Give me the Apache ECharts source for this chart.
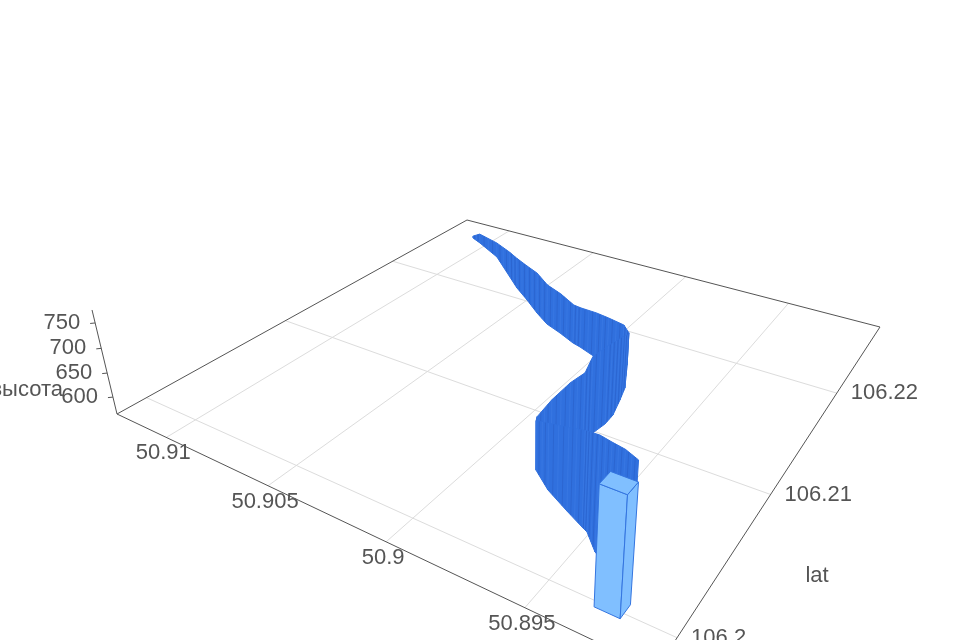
<!DOCTYPE html>
<html><head><meta charset="utf-8"><style>html,body{margin:0;background:#fff;overflow:hidden}#c{width:960px;height:640px;filter:blur(0.5px)}</style></head><body><div id="c"></div>
<script src="https://cdn.jsdelivr.net/npm/echarts@6/dist/echarts.min.js"></script>
<script>
// Track samples, far end to near end
const trackLon=[50.91105,50.91039,50.90872,50.90695,50.90604,50.90500,50.90397,50.90308,50.90220,50.90132,50.90091,50.90000,50.89948,50.89890,50.89862,50.89791,50.89768,50.89743,50.89740,50.89752,50.89758,50.89773,50.89792,50.89806,50.89806,50.89717,50.89611,50.89533,50.89509,50.89445,50.89390,50.89396,50.89486];
const trackLat=[106.22614,106.22569,106.22440,106.22228,106.22119,106.22013,106.21901,106.21815,106.21763,106.21703,106.21685,106.21633,106.21641,106.21667,106.21654,106.21437,106.21320,106.21177,106.21085,106.20961,106.20906,106.20805,106.20683,106.20588,106.20579,106.20484,106.20404,106.20348,106.20332,106.20242,106.20198,106.20336,106.20741];
const trackAlt=[569,588,601,627,638,647,659,656,655,651,653,663,658,647,636,678,698,717,724,722,700,697,684,668,662,693,721,742,747,773,781,738,612];
// Highlighted bar: centre, half sizes, height
const barLon=50.89298, barLat=106.20012, barAlt=775, barHalfLon=0.00041, barHalfLat=0.00043;
// Axes
const lonTicks=[50.91,50.905,50.9,50.895];
const lonLabels=['50.91','50.905','50.9','50.895'];
const latTicks=[106.2,106.21,106.22];
const latLabels=['106.2','106.21','106.22'];
const altTicks=[600,650,700,750];
const altLabels=['600','650','700','750'];
const lonRange=[50.9127,50.89096], latRange=[106.1982,106.2286], altRange=[564,775];
const altName='высота', latName='lat';

// Camera: floor plane homography plus a vertical vanishing point
const CL=[117,414],CF=[656,670],CB=[467,220];
const G=-0.2901,H=0.4625,K=-0.05699,VP=[530,2135];
const A=CF[0]-CL[0]+G*CF[0],Bx=CB[0]-CL[0]+H*CB[0],D=CF[1]-CL[1]+G*CF[1],E=CB[1]-CL[1]+H*CB[1];
const lm=echarts.number.linearMap;
function project(lon,lat,alt){
  const u=lm(lon,lonRange,[0,1]),v=lm(lat,latRange,[0,1]),t=lm(alt,altRange,[0,1]);
  const q=K*t,w=G*u+H*v+1+q;
  return [(A*u+Bx*v+CL[0]+q*VP[0])/w,(D*u+E*v+CL[1]+q*VP[1])/w];
}
const z0=altRange[0];
const lonEnds=[lonRange[0],lonRange[1]],latEnds=[latRange[0],latRange[1]];
function line(a,b,stroke,lw){return {type:'line',shape:{x1:a[0],y1:a[1],x2:b[0],y2:b[1]},style:{stroke,lineWidth:lw||1}};}
function poly(pts,fill,stroke,lw){return {type:'polygon',shape:{points:pts},style:{fill,stroke:stroke||fill,lineWidth:lw||1,lineJoin:'round'}};}
const TXT='#555',FONT='22px "Liberation Sans"';
function text(x,y,s,align){return {type:'text',x,y,style:{text:s,fill:TXT,font:FONT,align:align||'center',verticalAlign:'middle'}};}
const mix=(p,q,f)=>[p[0]+(q[0]-p[0])*f,p[1]+(q[1]-p[1])*f];

function renderGrid(){
  const ch=[];
  lonTicks.forEach(l=>ch.push(line(project(l,latEnds[0],z0),project(l,latEnds[1],z0),'#dcdcdc')));
  latTicks.forEach(l=>ch.push(line(project(lonEnds[0],l,z0),project(lonEnds[1],l,z0),'#dcdcdc')));
  const c=[project(lonEnds[0],latEnds[0],z0),project(lonEnds[1],latEnds[0],z0),project(lonEnds[1],latEnds[1],z0),project(lonEnds[0],latEnds[1],z0)];
  for(let i=0;i<4;i++)ch.push(line(c[i],c[(i+1)%4],'#555'));
  ch.push(line(c[0],project(lonEnds[0],latEnds[0],altRange[1]),'#555'));
  altTicks.forEach(a=>{const p=project(lonEnds[0],latEnds[0],a);ch.push(line(p,[p[0]-5,p[1]+0.5],'#555'));});
  return {type:'group',children:ch};
}
function renderWall(params,api){
  const i=api.value(0);
  if(i>=trackLon.length-1)return null;
  const a=project(trackLon[i],trackLat[i],z0),b=project(trackLon[i+1],trackLat[i+1],z0),
        c=project(trackLon[i+1],trackLat[i+1],trackAlt[i+1]),d=project(trackLon[i],trackLat[i],trackAlt[i]);
  const ch=[poly([a,b,c,d],'#3070de','#3070de',1)];
  [0,0.25,0.5,0.75].forEach((f,j)=>ch.push(line(mix(a,b,f),mix(d,c,f),j%2?'#2a62cc':'#3b7ae4',0.7)));
  return {type:'group',children:ch};
}
function renderBar(){
  const h=(sx,sy,z)=>project(barLon+sx*barHalfLon,barLat+sy*barHalfLat,z);
  const fill='#80bfff',edge='#3475e0';
  const b1=h(1,-1,z0),b2=h(-1,-1,z0),b3=h(-1,1,z0);
  const t0=h(1,1,barAlt),t1=h(1,-1,barAlt),t2=h(-1,-1,barAlt),t3=h(-1,1,barAlt);
  return {type:'group',children:[poly([b1,b2,t2,t1],fill,edge),poly([b2,b3,t3,t2],fill,edge),poly([t0,t1,t2,t3],fill,edge)]};
}
function renderText(){
  const ch=[];
  lonTicks.forEach((l,i)=>{const p=project(l,latEnds[0],z0);ch.push(text(p[0]-3,p[1]+16,lonLabels[i]));});
  latTicks.forEach((l,i)=>{const p=project(lonEnds[1],l,z0);ch.push(text(p[0]+14,p[1],latLabels[i],'left'));});
  altTicks.forEach((a,i)=>{const p=project(lonEnds[0],latEnds[0],a);ch.push(text(p[0]-15,p[1]-0.5,altLabels[i],'right'));});
  ch.push(text(817,576,latName));
  ch.push(text(63,390,altName,'right'));
  return {type:'group',children:ch};
}
const chart=echarts.init(document.getElementById('c'),null,{renderer:'canvas'});
const sample=trackLon.map((_,i)=>[i]);
chart.setOption({backgroundColor:'#fff',animation:false,series:[
  {type:'custom',coordinateSystem:'none',silent:true,data:[[0]],renderItem:renderGrid,z:1},
  {type:'custom',coordinateSystem:'none',silent:true,data:sample,renderItem:renderWall,z:2},
  {type:'custom',coordinateSystem:'none',silent:true,data:[[0]],renderItem:renderBar,z:3},
  {type:'custom',coordinateSystem:'none',silent:true,data:[[0]],renderItem:renderText,z:4}
]});
</script></body></html>
